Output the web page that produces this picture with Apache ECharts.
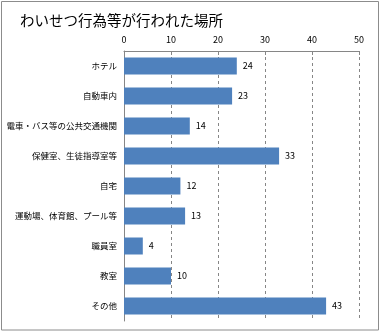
<!DOCTYPE html>
<html><head><meta charset="utf-8">
<script src="https://cdn.jsdelivr.net/npm/echarts@6/dist/echarts.min.js"></script>
<style>html,body{margin:0;padding:0;background:#fff}#c{width:380px;height:332px}</style>
</head><body><div id="c"></div>
<script>
const titleText = 'わいせつ行為等が行われた場所';
const categories = ['ホテル','自動車内','電車・バス等の公共交通機関','保健室、生徒指導室等','自宅','運動場、体育館、プール等','職員室','教室','その他'];
const values = [24,23,14,33,12,13,4,10,43];
const xTicks = [0,10,20,30,40,50];

const chart = echarts.init(document.getElementById('c'));
const font = '"Noto Sans CJK JP","Noto Sans",sans-serif';
chart.setOption({
  animation:false,
  title:{text:titleText,left:15,top:8,textStyle:{fontFamily:font,fontSize:14.5,fontWeight:'normal',color:'#000'}},
  graphic:[{type:'rect',shape:{x:1.5,y:1.5,width:377,height:328.5},style:{fill:'none',stroke:'#8c8c8c',lineWidth:1}}],
  grid:{left:124,right:21,top:51,bottom:11},
  xAxis:{type:'value',position:'top',min:xTicks[0],max:xTicks[xTicks.length-1],interval:10,
    axisLine:{show:true,lineStyle:{color:'#868686'}},
    axisTick:{show:true,inside:true,length:4,lineStyle:{color:'#868686'}},
    axisLabel:{fontSize:9,color:'#000',fontFamily:font,margin:7},
    splitLine:{show:true,lineStyle:{color:'#868686',type:[3,3]}}},
  yAxis:{type:'category',inverse:true,data:categories,
    axisLine:{show:true,lineStyle:{color:'#868686'}},
    axisTick:{show:false},
    axisLabel:{fontSize:8.5,color:'#000',fontFamily:font,margin:7}},
  series:[{type:'bar',data:values,barWidth:17,itemStyle:{color:'#4f81bd'},
    label:{show:true,position:'right',distance:6,fontSize:9,color:'#000',fontFamily:font}}]
});
</script></body></html>
